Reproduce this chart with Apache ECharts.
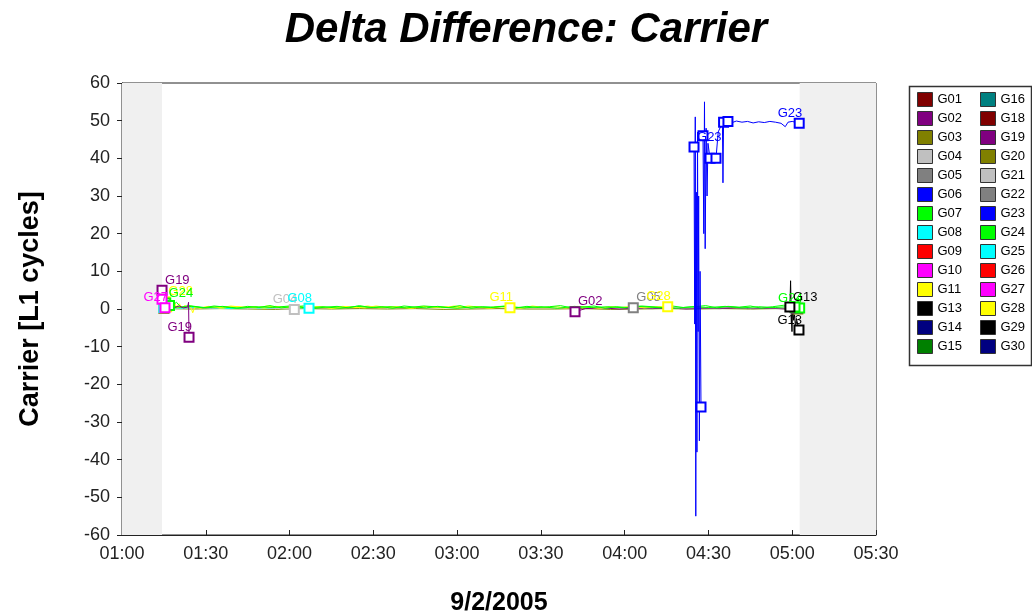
<!DOCTYPE html>
<html>
<head>
<meta charset="utf-8">
<title>Delta Difference: Carrier</title>
<script src="https://cdn.jsdelivr.net/npm/echarts@6/dist/echarts.min.js"></script>
<style>
  html, body { margin: 0; padding: 0; background: #fff; }
  #chart { width: 1032px; height: 616px; }
</style>
</head>
<body>
<div id="chart"></div>
<script>
// ---- Satellites shown in the legend (two columns) ----
const SAT_COL1 = ['G01','G02','G03','G04','G05','G06','G07','G08','G09','G10','G11','G13','G14','G15'];
const SAT_COL2 = ['G16','G18','G19','G20','G21','G22','G23','G24','G25','G26','G27','G28','G29','G30'];
const SAT_COLORS = {
  G01:'#800000', G02:'#800080', G03:'#808000', G04:'#c0c0c0', G05:'#808080',
  G06:'#0000ff', G07:'#00ff00', G08:'#00ffff', G09:'#ff0000', G10:'#ff00ff',
  G11:'#ffff00', G13:'#000000', G14:'#000080', G15:'#008000', G16:'#008080',
  G18:'#800000', G19:'#800080', G20:'#808000', G21:'#c0c0c0', G22:'#808080',
  G23:'#0000ff', G24:'#00ff00', G25:'#00ffff', G26:'#ff0000', G27:'#ff00ff',
  G28:'#ffff00', G29:'#000000', G30:'#000080'
};

// ---- Axis ticks ----
const Y_TICKS = [-60,-50,-40,-30,-20,-10,0,10,20,30,40,50,60];
const X_TICKS = ['01:00','01:30','02:00','02:30','03:00','03:30','04:00','04:30','05:00','05:30'];
// Observation window (outside it the plot is shaded)
const COVERAGE = ['01:14:20','05:02:40'];

// ---- Carrier delta differences [time, L1 cycles]; null = gap between arcs ----
const G03 = [['01:15',0.1],['01:25',0.0],['01:35',0.1],['01:45',0.0],['01:55',-0.1],['02:05',0.1],['02:15',0.0],['02:25',0.1],
  ['02:35',0.0],['02:45',0.1],['02:55',-0.1],['03:05',0.0],['03:15',0.1],['03:25',0.0],['03:35',0.0],['03:45',0.1],
  ['03:55',-0.1],['04:05',0.0],['04:15',0.1],['04:25',0.0],['04:35',0.1],['04:45',0.0],['04:55',0.1],['05:02',0.0]];
const G02 = [['03:42:13',-0.7],['03:46',0.1],['03:52',0.3],['03:58',0.0],['04:04',0.2],['04:10',0.1],['04:16',0.3],['04:22',0.0],
  ['04:28',0.2],['04:34',0.1],['04:40',0.3],['04:46',0.1],['04:52',0.2],['04:58',0.0],['05:02',0.2]];
const G05 = [['04:03:05',0.35],['04:08',0.2],['04:14',0.4],['04:20',0.1],['04:26',0.3],['04:32',0.2],['04:38',0.4],['04:44',0.1],
  ['04:50',0.3],['04:56',0.2],['05:01',0.3]];
const G04 = [['01:15',0.3],['01:20',0.1],['01:26',0.4],['01:32',0.2],['01:38',0.3],['01:44',0.0],['01:50',0.2],['01:56',0.1],['02:01:42',-0.1]];
const G08 = [['01:15',0.4],['01:21',0.2],['01:27',0.5],['01:33',0.3],['01:39',0.1],['01:45',0.4],['01:51',0.2],['01:57',0.5],['02:03',0.3],['02:06:58',0.2]];
const G11 = [['01:16',0.6],['01:20',0.3],['01:24',0.8],['01:28',0.4],['01:32',0.6],['01:36',0.2],['01:40',0.7],['01:44',0.5],
  ['01:48',0.3],['01:52',0.8],['01:56',0.4],['02:00',0.6],['02:04',0.3],['02:08',0.7],['02:12',0.5],['02:16',0.2],
  ['02:20',0.6],['02:24',0.4],['02:28',0.8],['02:32',0.3],['02:36',0.6],['02:40',0.5],['02:44',0.2],['02:48',0.7],
  ['02:52',0.4],['02:56',0.6],['03:00',0.3],['03:04',0.8],['03:08',0.5],['03:12',0.2],['03:16',0.6],['03:18:56',0.3]];
const G28 = [['01:15:30',1.9],['01:16:30',2.6],['01:17:30',0.8],['01:18:30',2.1],['01:19:30',0.5],['01:20:30',1.4],['01:21:30',0.3],
  ['01:22:30',0.9],['01:23:30',0.4],['01:24:30',0.7],['01:25:20',-1.0],['01:26:10',0.6],['01:28',0.2],['01:31',0.7],['01:35',0.3],
  ['01:39',0.8],['01:43',0.4],['01:47',0.6],['01:51',0.2],['01:55',0.7],['01:59',0.4],['02:03',0.8],['02:07',0.3],['02:11',0.6],
  ['02:15',0.2],['02:19',0.7],['02:23',0.5],['02:27',0.3],['02:31',0.8],['02:35',0.4],['02:39',0.6],['02:43',0.2],['02:47',0.7],
  ['02:51',0.5],['02:55',0.3],['02:59',0.8],['03:03',0.4],['03:07',0.6],['03:11',0.3],['03:15',0.7],['03:19',0.5],['03:23',0.2],
  ['03:27',0.8],['03:31',0.4],['03:35',0.6],['03:39',0.3],['03:43',0.7],['03:47',0.5],['03:51',0.2],['03:55',0.6],['03:59',0.4],
  ['04:03',0.8],['04:07',0.3],['04:11',0.6],['04:15:25',0.6]];
const G24 = [['01:15:40',1.6],['01:16:40',2.4],['01:18',0.9],['01:19:30',1.8],['01:21',0.5],['01:24',0.9],['01:30',0.3],['01:36',0.7],
  ['01:42',0.2],['01:48',0.6],['01:54',0.4],['02:00',0.8],['02:06',0.3],['02:12',0.6],['02:18',0.2],['02:24',0.7],['02:30',0.4],
  ['02:36',0.6],['02:42',0.3],['02:48',0.8],['02:54',0.5],['03:00',0.2],['03:06',0.6],['03:12',0.4],['03:18',0.7],['03:24',0.3],
  ['03:30',0.6],['03:36',0.2],['03:42',0.7],['03:48',0.4],['03:54',0.6],['04:00',0.3],['04:06',0.8],['04:12',0.5],['04:18',0.2],
  ['04:24',0.6],['04:30',0.4],['04:36',0.7],['04:42',0.3],['04:48',0.6],['04:54',0.4],['05:00',0.7],['05:01:30',1.2],
  ['05:02:10',3.0],['05:02:40',0.25]];
const G07 = [['01:17',0.9],['01:21',0.4],['01:25',0.7],['01:29',0.3],['01:33',0.8],['01:37',0.5],['01:41',0.2],['01:45',0.7],
  ['01:49',0.4],['01:53',0.9],['01:57',0.3],['02:01',0.6],['02:05',0.8],['02:09',0.2],['02:13',0.5],['02:17',0.7],['02:21',0.3],
  ['02:25',0.9],['02:29',0.4],['02:33',0.6],['02:37',0.2],['02:41',0.8],['02:45',0.5],['02:49',0.3],['02:53',0.7],['02:57',0.4],
  ['03:01',0.9],['03:05',0.2],['03:09',0.6],['03:13',0.5],['03:17',0.8],['03:21',0.3],['03:25',0.7],['03:29',0.4],['03:33',0.6],
  ['03:37',0.9],['03:41',0.3],['03:45',0.5],['03:49',0.8],['03:53',0.2],['03:57',0.6],['04:01',0.4],['04:05',0.7],['04:09',0.5],
  ['04:13',0.3],['04:17',0.8],['04:21',0.4],['04:25',0.6],['04:29',0.9],['04:33',0.3],['04:37',0.7],['04:41',0.5],['04:45',0.8],
  ['04:49',0.2],['04:53',0.6],['04:57',1.0],['05:01',0.5]];
const G19 = [['01:14:20',5.0],['01:15:00',2.0],['01:16:00',0.5],['01:17:30',1.2],['01:19:00',0.4],['01:20:30',0.8],['01:22:00',0.3],
  ['01:23:30',0.5],['01:23:50',1.8],['01:24:00',-7.5]];
const G27 = [['01:14:20',2.6],['01:14:50',1.0],['01:15:24',0.3]];
const G13 = [['04:59:10',0.5],['04:59:25',7.5],['04:59:40',-2.0],['04:59:55',-6.0],['05:00:10',1.0],['05:00:30',-3.0],
  ['05:00:50',-1.5],['05:01:10',-5.0],['05:01:30',-2.5],['05:02:25',-5.6]];
const G23 = [['04:24:50',43],['04:25:05',-4],['04:25:17',51],['04:25:28',-55],['04:25:40',31],['04:25:53',-38],['04:26:05',47],
  ['04:26:18',-6],['04:26:30',30],['04:26:45',-35],['04:27:00',10],['04:27:20',-26],
  null,
  ['04:28:03',46],['04:28:20',20],['04:28:35',55],['04:28:50',16],['04:29:10',48],['04:29:30',30],['04:29:50',44],['04:30:34',40],
  null,
  ['04:32:42',40],['04:33:30',47],['04:35:00',49.5],['04:35:12',33.5],['04:35:25',49.6],
  null,
  ['04:36:59',49.8],['04:38:30',49.5],['04:40',49.9],['04:42',49.6],['04:44',49.8],['04:46',49.4],['04:48',49.7],['04:50',49.5],
  ['04:52',49.8],['04:54',49.6],['04:56',49.3],['04:57:30',48.4],['04:58:30',49.6],['05:00',49.8],['05:01:30',49.5],['05:02:30',49.3]];

const TRACKS = { G03, G02, G05, G04, G08, G11, G28, G24, G07, G19, G27, G13, G23 };
// Which arc ends carry a name tag: [first point, last point]
const TAGS = {
  G19:[true,true], G27:[false,true], G28:[true,true], G24:[true,true], G11:[false,true],
  G08:[false,true], G04:[false,true], G02:[true,false], G05:[true,false], G13:[true,true], G23:[true,true]
};

const FONT = '"Liberation Sans", Arial, Helvetica, sans-serif';
function toMin(s) { const p = s.split(':').map(Number); return p[0] * 60 + p[1] + (p[2] || 0) / 60; }
function pad(n) { return (n < 10 ? '0' : '') + n; }
function fmtTime(v) { return pad(Math.floor(v / 60)) + ':' + pad(Math.round(v % 60)); }

// Arc ends get a hollow square; the first/last point of a track may carry its name
function buildData(name, pts) {
  const color = SAT_COLORS[name];
  const tags = TAGS[name] || [false, false];
  const out = [];
  let lastX = 0;
  pts.forEach((p, i) => {
    if (!p) { out.push({ value: [lastX, '-'] }); return; }
    const x = toMin(p[0]);
    lastX = x;
    const prev = pts[i - 1], next = pts[i + 1];
    const isStart = !prev, isEnd = !next;
    const item = { value: [x, p[1]] };
    if (isStart || isEnd) {
      item.symbol = 'emptyRect';
      item.symbolSize = 9;
      const first = i === 0, last = i === pts.length - 1;
      if ((first && tags[0]) || (last && tags[1])) {
        item.label = {
          show: true, formatter: name, position: 'top', distance: 0,
          align: first ? 'left' : 'right', offset: [3, 2],
          color: color, fontFamily: FONT, fontSize: 13
        };
      }
    }
    out.push(item);
  });
  return out;
}

const allNames = SAT_COL1.concat(SAT_COL2);
const series = [{
  type: 'line', name: '__shade', data: [], silent: true,
  markArea: {
    silent: true, itemStyle: { color: '#f0f0f0' },
    data: [
      [{ xAxis: toMin(X_TICKS[0]) }, { xAxis: toMin(COVERAGE[0]) }],
      [{ xAxis: toMin(COVERAGE[1]) }, { xAxis: toMin(X_TICKS[X_TICKS.length - 1]) }]
    ]
  }
}];
// untracked satellites: empty series so they appear in the legend
allNames.filter(n => !TRACKS[n]).forEach(n => {
  series.push({ type: 'line', name: n, color: SAT_COLORS[n], data: [] });
});
Object.keys(TRACKS).forEach(n => {
  series.push({
    type: 'line', name: n, color: SAT_COLORS[n],
    symbol: 'none', showSymbol: true,
    itemStyle: { color: SAT_COLORS[n], borderWidth: 1 },
    lineStyle: { width: 1, color: SAT_COLORS[n] },
    emphasis: { disabled: true },
    data: buildData(n, TRACKS[n])
  });
});

const legendBase = {
  orient: 'vertical', top: 92, itemWidth: 15, itemHeight: 14, itemGap: 4,
  icon: 'rect', selectedMode: false, padding: 0,
  itemStyle: { borderColor: '#333', borderWidth: 1 },
  textStyle: { fontFamily: FONT, fontSize: 13, color: '#000' }
};

const chart = echarts.init(document.getElementById('chart'), null, { renderer: 'canvas' });
chart.setOption({
  animation: false,
  backgroundColor: '#fff',
  title: {
    text: 'Delta Difference: Carrier', left: 521, top: 4, textAlign: 'center',
    textStyle: { fontFamily: FONT, fontSize: 42, fontWeight: 'bold', fontStyle: 'italic', color: '#000' }
  },
  legend: [
    Object.assign({}, legendBase, { left: 917, data: SAT_COL1 }),
    Object.assign({}, legendBase, { left: 980, data: SAT_COL2 })
  ],
  graphic: [{
    type: 'rect', left: 907, top: 84, silent: true,
    shape: { width: 122, height: 279 },
    style: { fill: 'none', stroke: '#333', lineWidth: 1.5 }
  }],
  grid: {
    left: 122, right: 156, top: 83, bottom: 81,
    containLabel: false, outerBoundsMode: 'none',
    show: true, borderColor: '#222', borderWidth: 1, backgroundColor: '#fff'
  },
  xAxis: {
    type: 'value', min: toMin(X_TICKS[0]), max: toMin(X_TICKS[X_TICKS.length - 1]), interval: 30,
    name: '9/2/2005', nameLocation: 'middle', nameGap: 56,
    nameTextStyle: { fontFamily: FONT, fontSize: 25, fontWeight: 'bold', color: '#000' },
    axisLine: { show: true, onZero: false, lineStyle: { color: '#222' } },
    axisTick: { show: true, inside: true, length: 5, lineStyle: { color: '#222' } },
    splitLine: { show: false },
    axisLabel: { formatter: fmtTime, fontFamily: FONT, fontSize: 18, color: '#222', margin: 10 }
  },
  yAxis: {
    type: 'value', min: Y_TICKS[0], max: Y_TICKS[Y_TICKS.length - 1], interval: 10,
    name: 'Carrier [L1 cycles]', nameLocation: 'middle', nameGap: 78,
    nameTextStyle: { fontFamily: FONT, fontSize: 27, fontWeight: 'bold', color: '#000' },
    axisLine: { show: true, onZero: false, lineStyle: { color: '#222' } },
    axisTick: { show: true, inside: false, length: 5, lineStyle: { color: '#222' } },
    splitLine: { show: false },
    axisLabel: { fontFamily: FONT, fontSize: 18, color: '#222', margin: 12 }
  },
  series: series
});
</script>
</body>
</html>
